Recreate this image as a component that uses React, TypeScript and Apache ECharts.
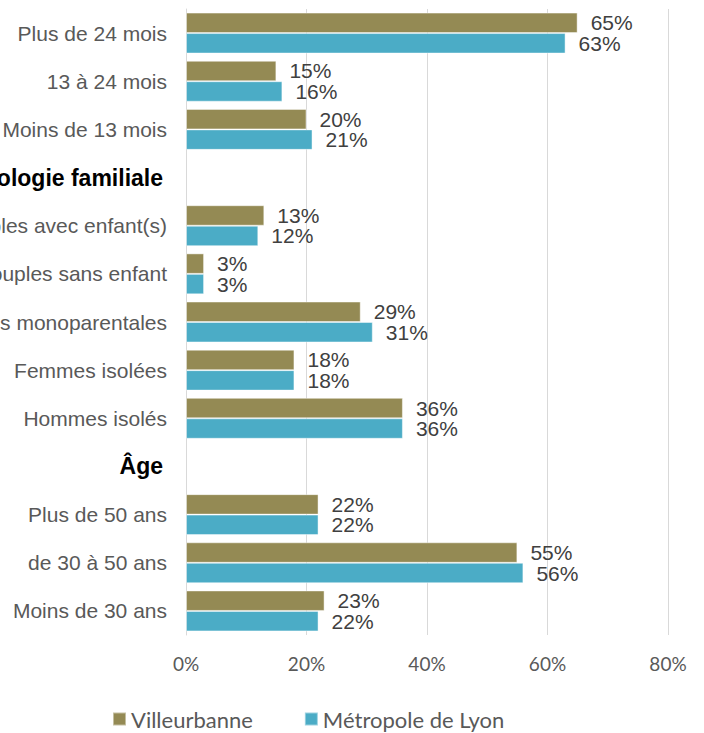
import React, { useEffect, useRef } from "react";
import * as echarts from "echarts";

const categories = [
  "Plus de 24 mois",
  "13 à 24 mois",
  "Moins de 13 mois",
  "Typologie familiale",
  "Couples avec enfant(s)",
  "Couples sans enfant",
  "Familles monoparentales",
  "Femmes isolées",
  "Hommes isolés",
  "Âge",
  "Plus de 50 ans",
  "de 30 à 50 ans",
  "Moins de 30 ans",
];
const headers = ["Typologie familiale", "Âge"];
const villeurbanne = [65, 15, 20, "-", 13, 3, 29, 18, 36, "-", 22, 55, 23];
const lyon = [63, 16, 21, "-", 12, 3, 31, 18, 36, "-", 22, 56, 22];
const seriesNames = ["Villeurbanne", "Métropole de Lyon"];
const xTicks = [0, 20, 40, 60, 80];

export default function App() {
  const ref = useRef<HTMLDivElement>(null);
  useEffect(() => {
    if (!ref.current) return;
    const chart = echarts.init(ref.current, null, { renderer: "svg" });
    const labelStyle = {
      show: true,
      position: "right",
      distance: 13,
      fontSize: 21,
      color: "#404040",
      fontFamily: "Liberation Sans, Arial, sans-serif",
      formatter: (p: any) => (p.value === "-" || p.value == null ? "" : p.value + "%"),
    };
    chart.setOption({
      animation: false,
      backgroundColor: "#ffffff",
      grid: { left: 186, right: 36, top: 9, bottom: 98, containLabel: false, outerBoundsMode: "none" },
      legend: {
        data: seriesNames,
        left: 112,
        top: 708,
        padding: 0,
        icon: "rect",
        itemWidth: 13,
        itemHeight: 13,
        itemGap: 51,
        textStyle: { color: "#595959", fontSize: 22, fontFamily: "Lato, sans-serif" },
      },
      xAxis: {
        type: "value",
        min: xTicks[0],
        max: xTicks[xTicks.length - 1],
        interval: 20,
        axisLine: { show: false },
        axisTick: { show: false },
        splitLine: { show: true, lineStyle: { color: "#D9D9D9", width: 1 } },
        axisLabel: {
          formatter: "{value}%",
          color: "#595959",
          fontSize: 19,
          fontFamily: "Lato, sans-serif",
          margin: 19,
        },
      },
      yAxis: {
        type: "category",
        data: categories,
        inverse: true,
        axisTick: { show: false },
        axisLine: { show: true, lineStyle: { color: "#D9D9D9", width: 1 } },
        axisLabel: {
          color: "#595959",
          fontSize: 21,
          fontFamily: "Liberation Sans, Arial, sans-serif",
          margin: 19,
          formatter: (v: string) => (headers.includes(v) ? "{h|" + v + "}" : v),
          rich: {
            h: {
              fontWeight: "bold",
              color: "#000000",
              fontSize: 23,
              fontFamily: "Liberation Sans, Arial, sans-serif",
              padding: [0, 4, 0, 0],
            },
          },
        },
      },
      series: [
        {
          name: seriesNames[0],
          type: "bar",
          data: villeurbanne,
          barCategoryGap: "15%",
          barGap: "0%",
          itemStyle: { color: "#948A54", borderColor: "rgba(255,255,255,0.45)", borderWidth: 1 },
          label: labelStyle,
        },
        {
          name: seriesNames[1],
          type: "bar",
          data: lyon,
          barCategoryGap: "15%",
          barGap: "0%",
          itemStyle: { color: "#4BACC6", borderColor: "rgba(255,255,255,0.45)", borderWidth: 1 },
          label: labelStyle,
        },
      ],
    });
    return () => chart.dispose();
  }, []);
  return (
    <div
      ref={ref}
      style={{ position: "fixed", left: 0, top: 0, width: 704, height: 733, background: "#fff" }}
    />
  );
}
